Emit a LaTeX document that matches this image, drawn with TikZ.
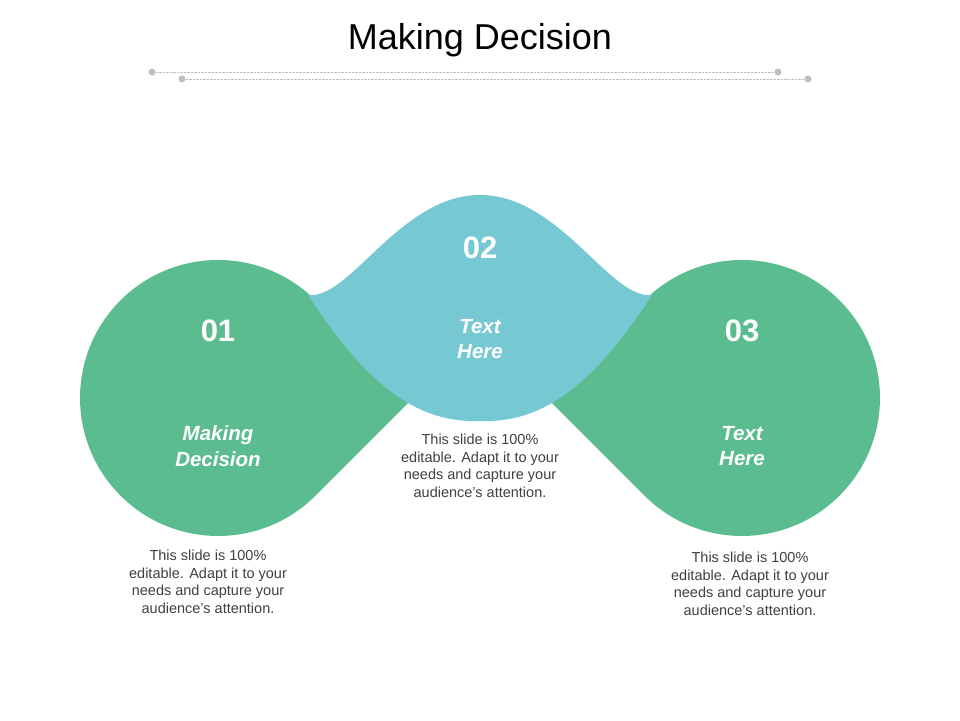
\documentclass[tikz,border=0pt]{standalone}
\usepackage{fontspec}
\setmainfont{Liberation Sans}
\definecolor{gr}{HTML}{5BBC90}
\definecolor{bl}{HTML}{76C8D2}
\definecolor{tx}{HTML}{404040}
\begin{document}
\begin{tikzpicture}[x=1pt,y=-1pt,
  num/.style={text=white,font=\bfseries\fontsize{31}{36}\selectfont},
  lab/.style={text=white,font=\bfseries\itshape\fontsize{20.5}{25.5}\selectfont,align=center},
  body/.style={text=tx,font=\fontsize{14.5}{17.5}\selectfont,align=center},
  dotn/.style={circle,fill=gray!50,inner sep=0pt,minimum size=7pt}]
\useasboundingbox (0,0) rectangle (960,720);
\node[font=\fontsize{36}{42}\selectfont] (title) at (480,40) {Making Decision};
\node[dotn] (a1) at (152,72) {}; \node[dotn] (a2) at (778,72) {};
\node[dotn] (b1) at (182,79) {}; \node[dotn] (b2) at (808,79) {};
\draw[gray!50,densely dotted] (a1) -- (a2);
\draw[gray!50,densely dotted] (b1) -- (b2);
% green
\fill[gr] (315.6,300.4) arc[start angle=-45,end angle=-315,radius=138] -- (413,398) -- cycle;
\fill[gr] (644.4,300.4) arc[start angle=-135,end angle=135,radius=138] -- (547,398) -- cycle;
% blue
\fill[bl] (308,295) .. controls (350,300) and (400,195) .. (480,195)
  .. controls (560,195) and (610,300) .. (652,295) -- cycle;
\fill[bl] (308,295) .. controls (370,390) and (420,423) .. (480,421) .. controls (540,423) and (590,390) .. (652,295) -- cycle;
\node[num] (n1) at (218,331) {01};
\node[num] (n2) at (480,248) {02};
\node[num] (n3) at (742,331) {03};
\node[lab] (l1) at (218,446) {Making\\Decision};
\node[lab] (l2) at (480,339) {Text\\Here};
\node[lab] (l3) at (742,446) {Text\\Here};
\node[body] (t1) at (208,582) {This slide is 100\%\\editable. Adapt it to your\\needs and capture your\\audience's attention.};
\node[body] (t2) at (480,466) {This slide is 100\%\\editable. Adapt it to your\\needs and capture your\\audience's attention.};
\node[body] (t3) at (750,584) {This slide is 100\%\\editable. Adapt it to your\\needs and capture your\\audience's attention.};
\end{tikzpicture}
\end{document}
